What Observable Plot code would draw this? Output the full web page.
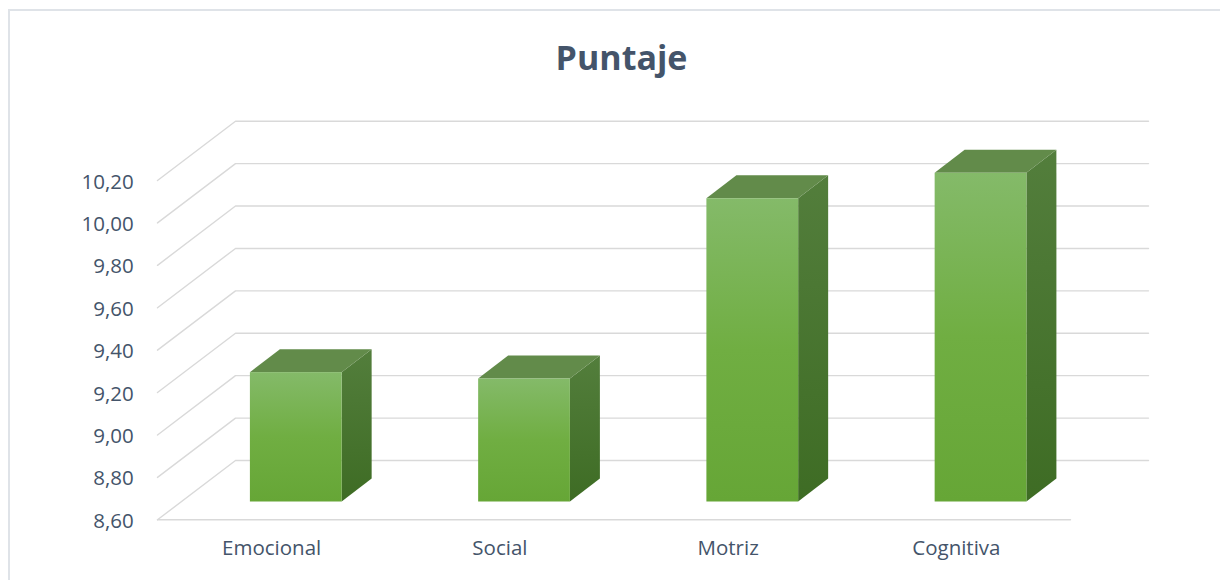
<!DOCTYPE html>
<html><head><meta charset="utf-8">
<script src="https://cdn.jsdelivr.net/npm/d3@7"></script>
<script src="https://cdn.jsdelivr.net/npm/@observablehq/plot@0.6"></script>
<style>
body{margin:0;background:#fff;font-family:"Open Sans",sans-serif;}
#wrap{position:relative;width:1220px;height:580px;overflow:hidden;background:#fff;}
#frame{position:absolute;left:8px;top:9px;width:1300px;height:700px;border-left:2px solid #dfe3e8;border-top:2px solid #dfe3e8;}
#title{position:relative;height:100px;box-sizing:border-box;padding-top:40px;padding-left:23px;text-align:center;font-weight:700;font-size:34px;line-height:34px;color:#44546a;}
#chart{position:relative;}
#chart svg{display:block;}
</style></head>
<body><div id="wrap"><div id="frame"></div><div id="title">Puntaje</div><div id="chart"></div></div>
<script>
const categories = ["Emocional", "Social", "Motriz", "Cognitiva"];
const values = [9.21, 9.18, 10.03, 10.15];
const yTicks = [8.6, 8.8, 9.0, 9.2, 9.4, 9.6, 9.8, 10.0, 10.2];

// 3D geometry (in data units)
const WALL_DX = 78 / 228.25, WALL_DY = 59.3 / 212.06;
const BAR_LEFT = 0.407, BAR_W = 0.402;
const BAR_BASE_DY = 17.8 / 212.06;
const BAR_DX = 30 / 228.25, BAR_DY = 23 / 212.06;
const yMin = yTicks[0];

const bars = categories.map((c, i) => ({
  i, c,
  x1: i + BAR_LEFT, x2: i + BAR_LEFT + BAR_W,
  y1: yMin + BAR_BASE_DY, y2: values[i] + BAR_BASE_DY
}));
const tops = bars.flatMap(b => [
  {i: b.i, y: b.y2, x1: b.x1, x2: b.x2},
  {i: b.i, y: b.y2 + BAR_DY, x1: b.x1 + BAR_DX, x2: b.x2 + BAR_DX}
]);
const sides = bars.flatMap(b => [
  {i: b.i, x: b.x2, y1: b.y1, y2: b.y2},
  {i: b.i, x: b.x2 + BAR_DX, y1: b.y1 + BAR_DY, y2: b.y2 + BAR_DY}
]);
const grid = yTicks.flatMap(v => [
  {v, x: 0, y: v},
  {v, x: WALL_DX, y: v + WALL_DY},
  {v, x: categories.length + WALL_DX, y: v + WALL_DY}
]);
const floor = [{x: 0, y: yMin}, {x: categories.length, y: yMin}];

const fmt = d => d3.format(".2f")(d).replace(".", ",");

const defs = () => {
  const d = d3.create("svg:defs");
  const gf = d.append("linearGradient").attr("id", "gFront").attr("x1", 0).attr("y1", 0).attr("x2", 0).attr("y2", 1);
  gf.append("stop").attr("offset", "0%").attr("stop-color", "#84ba69");
  gf.append("stop").attr("offset", "50%").attr("stop-color", "#70ae42");
  gf.append("stop").attr("offset", "100%").attr("stop-color", "#66a636");
  const gs = d.append("linearGradient").attr("id", "gSide").attr("x1", 0).attr("y1", 0).attr("x2", 0).attr("y2", 1);
  gs.append("stop").attr("offset", "0%").attr("stop-color", "#537e3c");
  gs.append("stop").attr("offset", "100%").attr("stop-color", "#3e6c24");
  return d.node();
};

const chart = Plot.plot({
  width: 1220,
  height: 480,
  marginLeft: 157,
  marginRight: 150,
  marginTop: 80,
  marginBottom: 60.7,
  style: {fontFamily: "'Open Sans', sans-serif", background: "transparent"},
  x: {type: "linear", domain: [0, categories.length], axis: null},
  y: {type: "linear", domain: [yTicks[0], yTicks[yTicks.length - 1]], axis: null},
  marks: [
    defs,
    Plot.line(grid, {x: "x", y: "y", z: "v", stroke: "#d9d9d9", strokeWidth: 1.4}),
    Plot.line(floor, {x: "x", y: "y", stroke: "#d9d9d9", strokeWidth: 1.4}),
    Plot.areaY(sides, {x: "x", y1: "y1", y2: "y2", z: "i", fill: "url(#gSide)"}),
    Plot.areaX(tops, {y: "y", x1: "x1", x2: "x2", z: "i", fill: "#628b4a"}),
    Plot.rect(bars, {x1: "x1", x2: "x2", y1: "y1", y2: "y2", fill: "url(#gFront)"}),
    Plot.text(yTicks, {y: d => d, text: fmt, frameAnchor: "left", textAnchor: "end", dx: -23.7, dy: 1.5, fontSize: 20.5, fill: "#44546a"}),
    Plot.text(categories, {x: (d, i) => i + 0.5, text: d => d, frameAnchor: "bottom", dy: 35.5, fontSize: 20.5, fill: "#44546a"})
  ]
});
document.getElementById("chart").appendChild(chart);
</script>
</body></html>
